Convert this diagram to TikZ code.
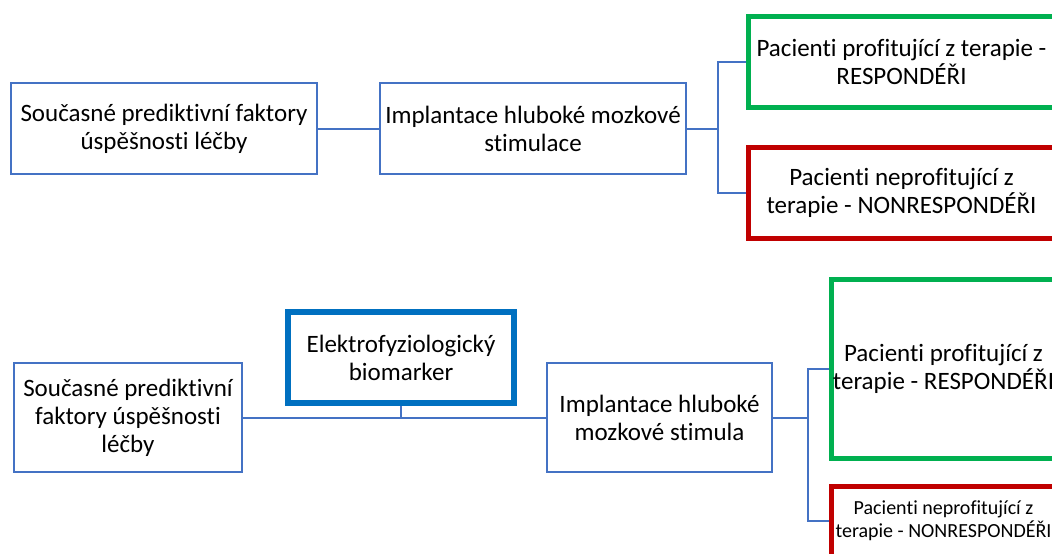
\documentclass[tikz,border=0pt]{standalone}
\usepackage{fontspec}
\setmainfont{Carlito}[Ligatures=NoCommon]
\definecolor{boxblue}{HTML}{4472C4}
\definecolor{bioblue}{HTML}{0070C0}
\definecolor{okgreen}{HTML}{00B050}
\definecolor{badred}{HTML}{C00000}
\begin{document}
\begin{tikzpicture}[x=1pt,y=-1pt,
  box/.style={draw=boxblue, line width=1.8pt, fill=white, inner sep=0pt, align=center,
    text=black, font=\fontsize{25}{28}\selectfont},
  goodbox/.style={box, draw=okgreen, line width=5pt},
  badbox/.style={box, draw=badred, line width=5pt},
  biobox/.style={box, draw=bioblue, line width=6pt},
  conn/.style={draw=boxblue, line width=2pt}]
\useasboundingbox (0,0) rectangle (1052,554);
% top row
\node[box, minimum width=306pt, minimum height=91pt] (a1) at (164,128.5) {Současné prediktivní faktory\\úspěšnosti léčby};
\node[box, minimum width=306pt, minimum height=91pt] (b1) at (533,128.5) {Implantace hluboké mozkové\\stimulace};
\node[goodbox, minimum width=306pt, minimum height=91pt] (g1) at (901.5,61.5) {Pacienti profitující z terapie -\\RESPONDÉŘI};
\node[badbox, minimum width=306pt, minimum height=91pt] (r1) at (901.5,192.5) {Pacienti neprofitující z\\terapie - NONRESPONDÉŘI};
\coordinate (j1) at (718,128.5);
\draw[conn] (a1.east) -- (b1.west);
\draw[conn] (b1.east) -- (j1);
\draw[conn] (g1.west) -| (j1) |- (r1.west);
% bottom row
\node[box, minimum width=228pt, minimum height=109pt] (a2) at (128,417.5) {Současné prediktivní\\faktory úspěšnosti\\léčby};
\node[biobox, minimum width=226pt, minimum height=91pt] (bio) at (401,357.5) {Elektrofyziologický\\biomarker};
\node[box, minimum width=225pt, minimum height=109pt] (b2) at (659.5,417.5) {Implantace hluboké\\mozkové stimula};
\node[goodbox, minimum width=225pt, minimum height=179pt] (g2) at (943.5,368.5) {Pacienti profitující z\\terapie - RESPONDÉŘI};
\node[badbox, minimum width=225pt, minimum height=70pt, font=\fontsize{20}{23}\selectfont] (r2) at (943.5,521) {Pacienti neprofitující z\\terapie - NONRESPONDÉŘI};
\coordinate (j2) at (808,417.5);
\draw[conn] (a2.east) -- (b2.west);
\draw[conn] (bio.south) -- (bio.south |- a2.east);
\draw[conn] (b2.east) -- (j2);
\draw[conn] (g2.west) -| (j2) |- (r2.west);
\end{tikzpicture}
\end{document}
